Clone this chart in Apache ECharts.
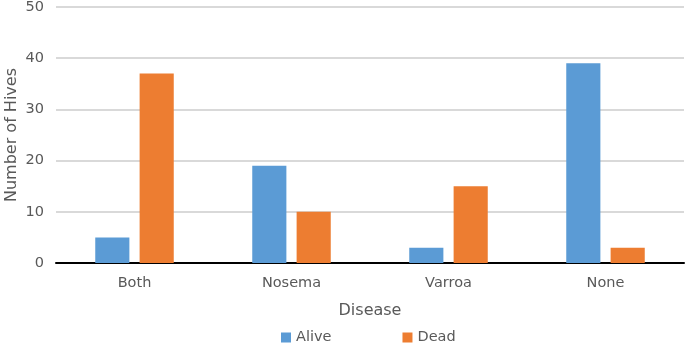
<!DOCTYPE html>
<html>
<head>
<meta charset="utf-8">
<script src="https://cdn.jsdelivr.net/npm/echarts@6/dist/echarts.min.js"></script>
<style>
html,body{margin:0;padding:0;background:#fff;}
#chart{width:685px;height:348px;}
</style>
</head>
<body>
<div id="chart"></div>
<script>
const categories = ["Both", "Nosema", "Varroa", "None"];
const aliveValues = [5, 19, 3, 39];
const deadValues = [37, 10, 15, 3];
const yTicks = [0, 10, 20, 30, 40, 50];

const FONT = "DejaVu Sans";
const TXT = "#595959";

const chart = echarts.init(document.getElementById("chart"), null, {renderer: "canvas"});
chart.setOption({
  animation: false,
  backgroundColor: "#ffffff",
  textStyle: {fontFamily: FONT},
  grid: {left: 56, right: 1, top: 7, bottom: 85, containLabel: false, outerBoundsMode: "none"},
  legend: {
    data: ["Alive", "Dead"],
    left: 281,
    top: 330,
    padding: 0,
    itemWidth: 10,
    itemHeight: 10,
    itemGap: 71,
    icon: "rect",
    textStyle: {fontFamily: FONT, fontSize: 14.5, color: TXT}
  },
  xAxis: {
    type: "category",
    data: categories,
    name: "Disease",
    nameLocation: "middle",
    nameGap: 40,
    nameMoveOverlap: false,
    nameTextStyle: {fontFamily: FONT, fontSize: 16, color: TXT},
    axisLine: {show: true, lineStyle: {color: "#000000", width: 2}},
    axisTick: {show: false},
    axisLabel: {fontFamily: FONT, fontSize: 14.5, color: TXT, margin: 13}
  },
  yAxis: {
    type: "value",
    min: yTicks[0],
    max: yTicks[yTicks.length - 1],
    interval: yTicks[1] - yTicks[0],
    name: "Number of Hives",
    nameLocation: "middle",
    nameGap: 36,
    nameMoveOverlap: false,
    nameTextStyle: {fontFamily: FONT, fontSize: 16, color: TXT},
    axisLine: {show: false},
    axisTick: {show: false},
    axisLabel: {fontFamily: FONT, fontSize: 14.5, color: TXT, margin: 12},
    splitLine: {show: true, lineStyle: {color: "#D9D9D9", width: 2}}
  },
  series: [
    {
      name: "Alive",
      type: "bar",
      data: aliveValues,
      itemStyle: {color: "#5B9BD5"},
      barGap: "30%",
      barCategoryGap: "50%"
    },
    {
      name: "Dead",
      type: "bar",
      data: deadValues,
      itemStyle: {color: "#ED7D31"},
      barGap: "30%",
      barCategoryGap: "50%"
    }
  ]
});
</script>
</body>
</html>
